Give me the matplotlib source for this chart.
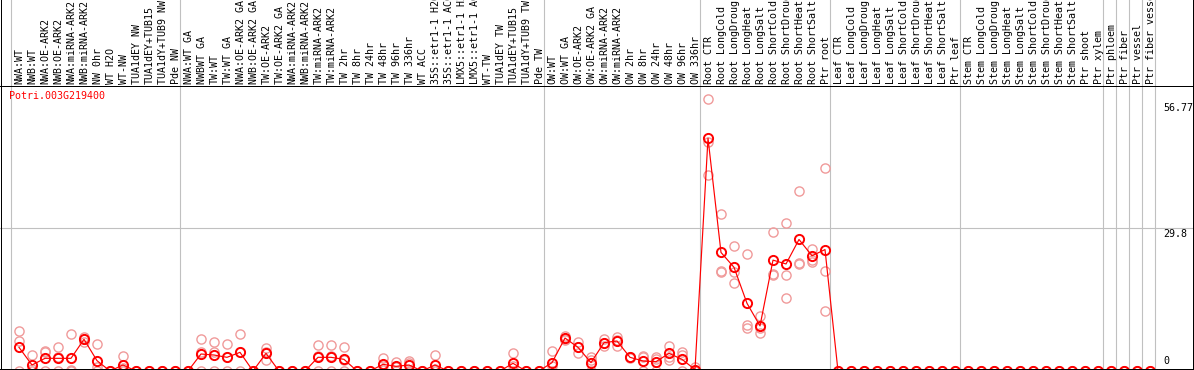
import matplotlib
matplotlib.use("Agg")
import matplotlib.pyplot as plt
from matplotlib.lines import Line2D
import matplotlib.transforms as mtransforms
import numpy as np

# ---------------- data ----------------
gene = "Potri.003G219400"

labels_nw = ["NWA:WT", "NWB:WT", "NWA:OE-ARK2", "NWB:OE-ARK2", "NWA:miRNA-ARK2",
             "NWB:miRNA-ARK2", "NW 0hr", "WT H2O", "WT-NW", "TUA1dEY NW",
             "TUA1dEY+TUB15", "TUA1dY+TUB9 NW", "Pde NW"]
labels_tw = ["NWA:WT GA", "NWBWT GA", "TW:WT", "TW:WT GA", "NWA:OE-ARK2 GA",
             "NWB:OE-ARK2 GA", "TW:OE-ARK2", "TW:OE-ARK2 GA", "NWA:miRNA-ARK2",
             "NWB:miRNA-ARK2", "TW:miRNA-ARK2", "TW:miRNA-ARK2", "TW 2hr", "TW 8hr",
             "TW 24hr", "TW 48hr", "TW 96hr", "TW 336hr", "WT ACC", "35S::etr1-1 H2O",
             "35S::etr1-1 ACC", "LMX5::etr1-1 H2O", "LMX5::etr1-1 ACC", "WT-TW",
             "TUA1dEY TW", "TUA1dEY+TUB15", "TUA1dY+TUB9 TW", "Pde TW"]
labels_ow = ["OW:WT", "OW:WT GA", "OW:OE-ARK2", "OW:OE-ARK2 GA", "OW:miRNA-ARK2",
             "OW:miRNA-ARK2", "OW 2hr", "OW 8hr", "OW 24hr", "OW 48hr", "OW 96hr",
             "OW 336hr"]
labels_root = ["Root CTR", "Root LongCold", "Root LongDrought", "Root LongHeat",
               "Root LongSalt", "Root ShortCold", "Root ShortDrought", "Root ShortHeat",
               "Root ShortSalt", "Ptr root"]
labels_leaf = ["Leaf CTR", "Leaf LongCold", "Leaf LongDrought", "Leaf LongHeat",
               "Leaf LongSalt", "Leaf ShortCold", "Leaf ShortDrought", "Leaf ShortHeat",
               "Leaf ShortSalt", "Ptr leaf"]
labels_stem = ["Stem CTR", "Stem LongCold", "Stem LongDrought", "Stem LongHeat",
               "Stem LongSalt", "Stem ShortCold", "Stem ShortDrought", "Stem ShortHeat",
               "Stem ShortSalt", "Ptr shoot", "Ptr xylem"]

label_groups = [labels_nw, labels_tw, labels_ow, labels_root, labels_leaf,
                labels_stem, ["Ptr phloem"], ["Ptr fiber"], ["Ptr vessel"],
                ["Ptr fiber vessel"]]

means = [4.93, 1.25, 2.64, 2.64, 2.64, 6.6, 2.15, 0, 1.25, 0, 0, 0, 0,
         0, 3.54, 3.33, 2.85, 3.89, 0, 3.68, 0, 0, 0, 2.85, 2.85, 2.43, 0, 0,
         1.39, 0.97, 1.25, 0, 1.25, 0, 0, 0, 0, 0, 1.6, 0, 0,
         1.74, 6.87, 4.93, 1.74, 5.9, 6.25, 2.85, 2.08, 1.94, 3.68, 2.43, 0.3,
         48.5, 24.7, 21.6, 14.1, 9.4, 23.1, 22.3, 27.4, 24.0, 25.3,
         0, 0, 0, 0, 0, 0, 0, 0, 0, 0,
         0, 0, 0, 0, 0, 0, 0, 0, 0, 0, 0,
         0, 0, 0, 0]

rep1 = [8.27, 3.33, 4.24, 4.93, 7.64, 7.08, 5.63, 0, 3.12, 0, 0, 0, 0,
        0, 6.6, 5.97, 5.63, 7.64, 0, 4.86, 0, 0, 0, 5.42, 5.42, 5.07, 0, 0,
        2.64, 1.94, 2.15, 0, 3.33, 0, 0, 0, 0, 0, 3.68, 0, 0,
        4.1, 7.36, 5.97, 2.99, 6.6, 7.0, 2.99, 3.0, 2.99, 5.28, 3.89, 0.9,
        56.77, 32.7, 26.1, 24.3, 11.4, 28.9, 30.8, 37.6, 25.5, 42.3,
        0, 0, 0, 0, 0, 0, 0, 0, 0, 0,
        0, 0, 0, 0, 0, 0, 0, 0, 0, 0, 0,
        0, 0, 0, 0]
rep2 = [6.19, 0.4, 3.89, 2.97, 0.3, 6.6, 0.8, 0, 0.6, 0, 0, 0, 0,
        0, 4.0, 3.89, 2.9, 4.0, 0, 3.9, 0, 0, 0, 3.1, 3.1, 2.2, 0, 0,
        1.25, 0.9, 1.6, 0, 0.4, 0, 0, 0, 0, 0, 1.1, 0, 0,
        1.1, 6.7, 5.1, 2.2, 5.9, 6.5, 2.9, 3.2, 2.43, 2.85, 3.33, 0,
        47.8, 20.8, 20.7, 9.6, 8.9, 20.3, 19.9, 22.4, 23.1, 20.9,
        0, 0, 0, 0, 0, 0, 0, 0, 0, 0,
        0, 0, 0, 0, 0, 0, 0, 0, 0, 0, 0,
        0, 0, 0, 0]
rep3 = [0, 0, 0, 0, 0, 6.1, 0, 0, 0, 0, 0, 0, 0,
        0, 0, 0.1, 0, 0, 0, 2.29, 0, 0, 0, 0, 0, 0, 0, 0,
        0.3, 0, 0, 0, 0, 0, 0, 0, 0, 0, 0, 0, 0,
        0, 6.53, 3.68, 0, 5.2, 5.2, 2.64, 0, 0, 2.29, 0, 0,
        40.9, 20.6, 18.3, 9.0, 7.9, 20.1, 15.2, 22.2, 22.8, 12.5,
        0, 0, 0, 0, 0, 0, 0, 0, 0, 0,
        0, 0, 0, 0, 0, 0, 0, 0, 0, 0, 0,
        0, 0, 0, 0]

ytick_values = [56.77, 29.8, 0]
ytick_labels = ["56.77", "29.8", "0"]

# ---------------- layout ----------------
W, H = 1194, 370
fig = plt.figure(figsize=(W / 100, H / 100), dpi=100)

def fy(py):
    return 1 - py / H

header_line = 86.0
plot_bottom = 368.5
ax = fig.add_axes([0, fy(plot_bottom), 1, fy(header_line) - fy(plot_bottom)])
hx = fig.add_axes([0, fy(header_line), 1, 1 - fy(header_line)])

labels = [l for g in label_groups for l in g]
n = len(labels)
x = np.arange(n)

# x mapping: category i at pixel 19 + 13*i
xlim = (-19 / 13, (W - 19) / 13)
for a in (ax, hx):
    a.set_xlim(*xlim)
    a.set_axis_off()
# y mapping: value v at pixel 371 - 4.8*v
ax.set_ylim((371 - plot_bottom) / 4.8, (371 - header_line) / 4.8)
hx.set_ylim(0, 1)

mono = "DejaVu Sans Mono"
fs = 7.2
grey = "#c0c0c0"

# group separators
bounds = np.cumsum([0] + [len(g) for g in label_groups])
for b in bounds:
    for a in (ax, hx):
        a.axvline(b - 0.615, color=grey, lw=0.8, zorder=0)

# gridline
ax.axhline(29.8, color=grey, lw=0.8, zorder=0)

# header labels
htrans = mtransforms.blended_transform_factory(hx.transData, hx.transAxes)
for i, lab in enumerate(labels):
    hx.text(i + 0.05, 1.8 / header_line, lab,
            rotation=90, ha="center", va="bottom", family=mono, fontsize=fs,
            color="black", transform=htrans, clip_on=False)

# replicate points
rep_color = "#f09a9a"
for r in (rep1, rep2, rep3):
    ax.plot(x, r, ls="none", marker="o", ms=6.6, mfc="none", mec=rep_color,
            mew=1.0, zorder=2)

# mean line
ax.plot(x, means, color="#ff0000", lw=0.85, marker="o", ms=6.6, mfc="none",
        mec="#ff0000", mew=1.4, zorder=3)

# gene name
ax.text(9 / W, 1 - (91 - header_line) / (plot_bottom - header_line), gene,
        transform=ax.transAxes, color="#ff0000", family=mono, fontsize=fs,
        ha="left", va="top")

# y value labels on the right
ytrans = ax.get_yaxis_transform()
offsets = [-4.0, -1.0, 5.0]
vas = ["top", "top", "bottom"]
for v, t, off, va in zip(ytick_values, ytick_labels, offsets, vas):
    ax.annotate(t, xy=(1163 / W, v), xycoords=ytrans, xytext=(0, off),
                textcoords="offset pixels", family=mono, fontsize=fs,
                ha="left", va=va, color="black", annotation_clip=False)

# black frame lines
def fline(x0, y0, x1, y1):
    fig.add_artist(Line2D([x0 / W, x1 / W], [fy(y0), fy(y1)],
                          transform=fig.transFigure, color="black", lw=0.72,
                          antialiased=False))

fline(0, header_line, W, header_line)
fline(0, plot_bottom, W, plot_bottom)
fline(1.0, 0, 1.0, plot_bottom)
fline(1193.2, 0, 1193.2, plot_bottom)

fig.savefig("out.png", dpi=100)
